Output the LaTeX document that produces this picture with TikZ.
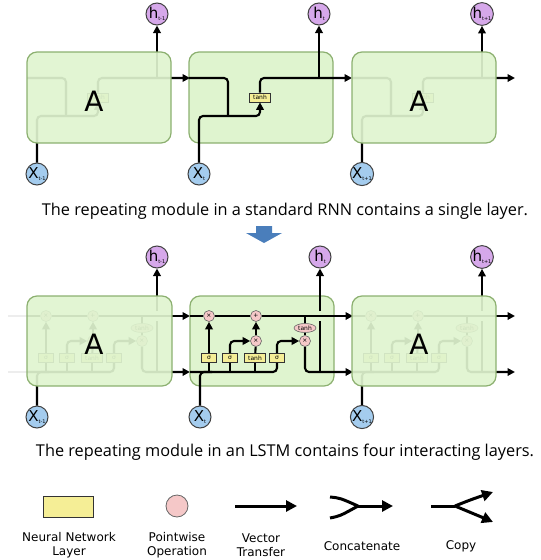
\documentclass[tikz,border=0pt]{standalone}
\usepackage{fontspec}
\setmainfont{DejaVu Sans}
\newfontfamily\capfont{Open Sans}
\usetikzlibrary{arrows.meta,shapes.geometric}
\definecolor{cellgreen}{RGB}{223,244,207}
\definecolor{celledge}{RGB}{140,176,112}
\definecolor{hpurple}{RGB}{214,168,234}
\definecolor{xblue}{RGB}{164,204,238}
\definecolor{layeryellow}{RGB}{245,238,150}
\definecolor{oppink}{RGB}{245,200,200}
\definecolor{arrowblue}{RGB}{74,126,187}

\begin{document}
\begin{tikzpicture}[x=1pt,y=-1pt,
  flow/.style={line width=2.1pt},
  arr/.style={flow,-{Triangle[length=7.5pt,width=7.5pt]}},
  cellbox/.style={rounded corners=10pt,draw=celledge,line width=1.2pt,fill=cellgreen},
  hnode/.style={circle,draw=black!75,line width=1pt,fill=hpurple,minimum size=22pt,inner sep=0pt},
  xnode/.style={hnode,fill=xblue},
  layer/.style={draw=black!80,line width=0.7pt,fill=layeryellow,minimum height=9pt,minimum width=15pt,inner sep=0pt,font=\fontsize{6}{6}\selectfont},
  op/.style={circle,draw=black!60,line width=0.6pt,fill=oppink,minimum size=11pt,inner sep=0pt,font=\fontsize{6}{6}\selectfont},
  captext/.style={font=\capfont\fontsize{16.3}{16}\selectfont},
  legend/.style={align=center,font=\fontsize{12}{14}\selectfont}]
  \useasboundingbox (0,0) rectangle (541,560);

  \def\lab#1#2{{\fontsize{15}{15}\selectfont #1}\raisebox{-1.5pt}{\fontsize{5}{5}\selectfont #2}}
  \def\Yr{78};  % rnn state
  \def\Yj{116}; % rnn join
  \def\Yc{316}; % cell state
  \def\Yt{328}; % tanh of cell
  \def\Ym{341}; % gate products
  \def\Yg{358}; % layers
  \def\Yh{372}; % hidden state

  % plain rnn module, #1 = left edge of box
  \def\rnncell#1#2#3{
    \node[xnode] (#2x) at (#1+10, 174) {\lab{X}{#3}};
    \node[hnode] (#2h) at (#1+130, 14) {\lab{h}{#3}};
    \node[layer, minimum width=21pt] (#2g) at (#1+71, 97.5) {tanh};
    \coordinate (#2j) at (#1+71, \Yj);
    \draw[flow, rounded corners=4pt] (#1, \Yr) -| (#1+39, \Yj);
    \draw[arr, rounded corners=4pt] (#2x.north) |- (#2j) -- (#2g.south);
    \draw[arr, rounded corners=4pt] (#2g.north) |- (#1+163, \Yr);
    \draw[arr] (#1+130, \Yr) -- (#2h);
  }

  % lstm module, #1 = left edge of box
  \def\lstmcell#1#2#3{
    \node[xnode] (#2x) at (#1+10, 417) {\lab{X}{#3}};
    \node[hnode] (#2h) at (#1+130, 257) {\lab{h}{#3}};
    \node[op] (#2f) at (#1+19, \Yc) {×};
    \node[op] (#2p) at (#1+66, \Yc) {+};
    \node[op] (#2i) at (#1+66, \Ym) {×};
    \node[op] (#2o) at (#1+115, \Ym) {×};
    \node[op, ellipse, minimum width=22pt, minimum height=9pt] (#2c) at (#1+115, \Yt) {tanh};
    \node[layer] (#2s1) at (#1+19, \Yg) {σ};
    \node[layer] (#2s2) at (#1+40, \Yg) {σ};
    \node[layer, minimum width=21pt] (#2g) at (#1+65, \Yg) {tanh};
    \node[layer] (#2s3) at (#1+87, \Yg) {σ};
    % cell state
    \draw[flow] (#1, \Yc) -- (#2f);
    \draw[flow] (#2f) -- (#2p);
    \draw[arr] (#2p) -- (#1+163, \Yc);
    % hidden state and input
    \draw[flow, rounded corners=4pt] (#1, \Yh) -| (#2s3.south);
    \draw[flow, rounded corners=4pt] (#2x.north) |- (#1+22, \Yh);
    % gates
    \draw[flow] (#1+19, \Yh) -- (#2s1.south);
    \draw[arr] (#2s1) -- (#2f);
    \draw[flow] (#1+40, \Yh) -- (#2s2.south);
    \draw[arr, rounded corners=4pt] (#2s2.north) |- (#2i.west);
    \draw[flow] (#1+65, \Yh) -- (#2g.south);
    \draw[flow] (#2g) -- (#2i);
    \draw[arr] (#2i) -- (#2p);
    \draw[arr, rounded corners=4pt] (#2s3.north) |- (#2o.west);
    % output
    \draw[flow] (#1+115, \Yc) -- (#2c.north);
    \draw[flow] (#2c) -- (#2o);
    \draw[arr, rounded corners=4pt] (#2o.south) |- (#1+163, \Yh);
    \draw[flow] (#1+130, \Yh) -- (#1+130, \Yc+5);
    \draw[arr] (#1+130, \Yc-5) -- (#2h);
  }

  % middle boxes
  \draw[cellbox] (189,52) rectangle (333,143);
  \draw[cellbox] (190,296) rectangle (334,386);

  % rnn row
  \rnncell{27}{ra}{t-1}
  \rnncell{189}{rb}{t}
  \rnncell{352}{rc}{t+1}

  % lstm row
  \draw[flow, black!7] (8, \Yc) -- (27, \Yc);
  \draw[flow, black!7] (8, \Yh) -- (27, \Yh);
  \lstmcell{27}{la}{t-1}
  \lstmcell{190}{lb}{t}
  \lstmcell{352}{lc}{t+1}

  % outer boxes cover their insides
  \draw[cellbox, fill opacity=0.92] (27,52) rectangle (171,143);
  \draw[cellbox, fill opacity=0.92] (352,52) rectangle (496,143);
  \draw[cellbox, fill opacity=0.92] (27,296) rectangle (172,386);
  \draw[cellbox, fill opacity=0.92] (352,296) rectangle (496,386);
  \node[font=\fontsize{28}{28}\selectfont] (ta) at (94,101) {A};
  \node[font=\fontsize{28}{28}\selectfont] (tc) at (419,101) {A};
  \node[font=\fontsize{28}{28}\selectfont] (ba) at (94,344) {A};
  \node[font=\fontsize{28}{28}\selectfont] (bc) at (419,344) {A};

  % captions
  \node[captext] (rnncap) at (285,211) {The repeating module in a standard RNN contains a single layer.};
  \fill[arrowblue] (256,226) -- (272,226) -- (272,233) -- (282,233) -- (264,243) -- (246,233) -- (256,233) -- cycle;
  \node[captext] (lstmcap) at (285,452) {The repeating module in an LSTM contains four interacting layers.};

  % legend
  \node[layer, minimum width=50pt, minimum height=21pt, line width=1pt] (lglayer) at (68,507) {};
  \node[op, minimum size=22pt, line width=0.8pt] (lgop) at (177,506) {};
  \coordinate (vs) at (235,506);
  \coordinate (ve) at (297,506);
  \draw[line width=3pt, -{Triangle[length=11pt,width=11pt]}] (vs) -- (ve);
  \coordinate (ca) at (330,497);
  \coordinate (cb) at (330,518);
  \coordinate (cm) at (358,506);
  \coordinate (ce) at (393,506);
  \draw[line width=3pt] (ca) .. controls (340,498) .. (cm);
  \draw[line width=3pt] (cb) .. controls (340,516) .. (cm);
  \draw[line width=3pt, -{Triangle[length=11pt,width=11pt]}] (cm) -- (ce);
  \coordinate (ps) at (431,506);
  \coordinate (pm) at (455,506);
  \coordinate (pu) at (493,492);
  \coordinate (pd) at (493,522);
  \draw[line width=3pt] (ps) -- (pm);
  \draw[line width=3pt, -{Triangle[length=11pt,width=11pt]}] (pm) .. controls (470,500) .. (pu);
  \draw[line width=3pt, -{Triangle[length=11pt,width=11pt]}] (pm) .. controls (470,512) .. (pd);
  \node[legend] (lglayert) at (69,545) {Neural Network\\Layer};
  \node[legend] (lgopt) at (177,545) {Pointwise\\Operation};
  \node[legend] (lgvt) at (261,545) {Vector\\Transfer};
  \node[legend] (lgct) at (362,546) {Concatenate};
  \node[legend] (lgpt) at (461,546) {Copy};
\end{tikzpicture}
\end{document}
